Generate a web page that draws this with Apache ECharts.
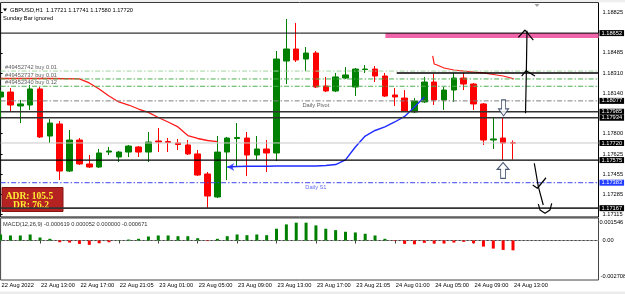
<!DOCTYPE html>
<html>
<head>
<meta charset="utf-8">
<title>GBPUSD H1</title>
<script src="https://cdn.jsdelivr.net/npm/echarts@6.0.0/dist/echarts.min.js"></script>
<style>
  html, body { margin: 0; padding: 0; background: #fff; }
  #chart { width: 625px; height: 294px; }
</style>
</head>
<body>
<div id="chart"></div>
<script>
// one bar per hour: bar 0 = 22 Aug 09:00 ... bar 52 = 24 Aug 13:00
const opens = [
  1.18110, 1.18152, 1.18034, 1.18042, 1.18178, 1.17779, 1.17881, 1.17482, 1.17745, 1.17542,
  1.17516, 1.17643, 1.17601, 1.17643, 1.17686, 1.17643, 1.17737, 1.17732, 1.17720, 1.17703,
  1.17627, 1.17457, 1.17262, 1.17643, 1.17758, 1.17762, 1.17618, 1.17669, 1.17635, 1.18415,
  1.18517, 1.18432, 1.18483, 1.18203, 1.18161, 1.18271, 1.18195, 1.18343, 1.18347, 1.18288,
  1.18127, 1.18101, 1.17983, 1.18068, 1.18237, 1.18085, 1.18169, 1.18271, 1.18220, 1.18051,
  1.17745, 1.17762, 1.17721
];
const highs = [
  1.18169, 1.18186, 1.18085, 1.18212, 1.18195, 1.17923, 1.17906, 1.17830, 1.17762, 1.17618,
  1.17669, 1.17686, 1.17652, 1.17703, 1.17694, 1.17813, 1.17847, 1.17762, 1.17754, 1.17745,
  1.17660, 1.17474, 1.17779, 1.17771, 1.17889, 1.17813, 1.17779, 1.17745, 1.18500, 1.18772,
  1.18738, 1.18534, 1.18500, 1.18280, 1.18314, 1.18364, 1.18356, 1.18381, 1.18373, 1.18314,
  1.18186, 1.18169, 1.18101, 1.18280, 1.18305, 1.18195, 1.18314, 1.18314, 1.18229, 1.18059,
  1.17932, 1.17940, 1.17741
];
const lows = [
  1.17940, 1.17991, 1.17889, 1.18000, 1.17762, 1.17720, 1.17406, 1.17474, 1.17533, 1.17508,
  1.17508, 1.17618, 1.17559, 1.17601, 1.17601, 1.17559, 1.17643, 1.17643, 1.17660, 1.17618,
  1.17440, 1.17160, 1.17253, 1.17406, 1.17525, 1.17440, 1.17576, 1.17474, 1.17567, 1.18220,
  1.18407, 1.18330, 1.18186, 1.18152, 1.18152, 1.18263, 1.18118, 1.18314, 1.18237, 1.18110,
  1.18034, 1.17983, 1.17974, 1.18059, 1.18042, 1.18000, 1.18068, 1.18169, 1.18000, 1.17703,
  1.17669, 1.17576, 1.17580
];
const closes = [
  1.18152, 1.18042, 1.18051, 1.18178, 1.17771, 1.17889, 1.17482, 1.17745, 1.17542, 1.17516,
  1.17635, 1.17652, 1.17643, 1.17694, 1.17643, 1.17728, 1.17728, 1.17724, 1.17707, 1.17627,
  1.17448, 1.17270, 1.17643, 1.17762, 1.17766, 1.17618, 1.17669, 1.17635, 1.18432, 1.18517,
  1.18424, 1.18483, 1.18195, 1.18161, 1.18280, 1.18297, 1.18347, 1.18347, 1.18288, 1.18118,
  1.18110, 1.17991, 1.18076, 1.18237, 1.18085, 1.18169, 1.18271, 1.18220, 1.18051, 1.17745,
  1.17754, 1.17720, 1.17720
];
const macdHist = [
  0.000415, 0.000346, 0.000346, 0.000415, 0.000208, 0.000118, -0.000118, -0.000138, -0.000228, -0.000298,
  -0.000187, -0.000118, 0.000021, 0.000069, 0.000118, 0.000277, 0.000346, 0.000346, 0.000298, 0.000298,
  0.000159, -0.000035, 0.000118, 0.000298, 0.000415, 0.000367, 0.000415, 0.000367, 0.000810, 0.001107,
  0.001225, 0.001225, 0.001038, 0.000810, 0.000713, 0.000602, 0.000554, 0.000464, 0.000346, 0.000118,
  -0.000035, -0.000228, -0.000256, -0.000159, -0.000208, -0.000208, -0.000138, -0.000090, -0.000187, -0.000415,
  -0.000554, -0.000644, -0.000671
];

// indicator lines, [bar index, price]
const redMA = [
  [0, 1.18267], [5, 1.18267], [8, 1.18263], [9, 1.18229], [10, 1.18178], [11, 1.18118],
  [12, 1.18068], [13, 1.18042], [14, 1.18008], [15, 1.17979], [16, 1.17936], [17, 1.17898],
  [18, 1.17856], [19, 1.17783], [20, 1.17758], [21, 1.17741], [22, 1.17732]
];
const redMA2 = [
  [43.85, 1.18458], [44.0, 1.18390], [44.3, 1.18381], [45, 1.18356], [46, 1.18339], [47, 1.18330],
  [48, 1.18322], [49, 1.18314], [50, 1.18301], [51, 1.18288], [51.8, 1.18271], [52.1, 1.18263]
];
const blueMA = [
  [23, 1.17516], [24, 1.17520], [25, 1.17522], [26, 1.17522], [27, 1.17522], [28, 1.17525],
  [29, 1.17525], [30, 1.17525], [31, 1.17525], [32, 1.17525], [33, 1.17529], [34, 1.17537],
  [35, 1.17576], [36, 1.17686], [37, 1.17779], [38, 1.17826], [39, 1.17856], [40, 1.17898],
  [41, 1.17945], [42, 1.18025], [43, 1.18110]
];

// axis ticks
const tickIndex = [0, 4, 8, 12, 16, 20, 24, 28, 32, 36, 40, 44, 48, 52];
const tickLabels = ['22 Aug 2022', '22 Aug 13:00', '22 Aug 17:00', '22 Aug 21:05', '23 Aug 01:00',
  '23 Aug 05:00', '23 Aug 09:00', '23 Aug 13:00', '23 Aug 17:00', '23 Aug 21:05', '24 Aug 01:00',
  '24 Aug 05:00', '24 Aug 09:00', '24 Aug 13:00'];
const priceTicks = [1.18825, 1.18485, 1.18310, 1.18140, 1.17800, 1.17625, 1.17455, 1.17285, 1.17115];
const priceTags = [1.18652, 1.18077, 1.17985, 1.17934, 1.17720, 1.17575, 1.17167];
const s1Tag = 1.17383;
const macdTicks = [0.001546, 0, -0.002708];

// chart objects
const solidLevels = [1.18652, 1.17985, 1.17934, 1.17575, 1.17167];
const bidLevel = 1.17720;
const buyLevels = [1.18330, 1.18263, 1.18201];
const buyLabels = ['#49452742 buy 0.01', '#49452737 buy 0.01', '#49452340 buy 0.12'];
const pivotLevel = 1.18077;
const dailyS1 = 1.17383;
const hLine = [40.2, 1.18314];            // start bar, price
const pinkZone = [39.05, 1.18652, 1.18610]; // start bar, top, bottom
const downArrow = [51.04, 1.18017];
const upArrow = [50.99, 1.17487];
const sketches = [
  [[53.27, 1.17972], [53.35, 1.18300], [53.42, 1.18672]],
  [[52.54, 1.18616], [53.22, 1.18678], [53.32, 1.18678], [54.06, 1.18593]],
  [[52.88, 1.18288], [53.32, 1.18333], [54.23, 1.18288]],
  [[54.16, 1.17548], [54.57, 1.17349], [55.07, 1.17194]],
  [[54.0, 1.17364], [54.47, 1.17336], [55.35, 1.17425]],
  [[54.57, 1.17202], [54.74, 1.17152], [55.25, 1.17124], [55.75, 1.17152], [55.93, 1.17208]]
];

const X_MIN = 0, X_MAX = 60.676;
const Y_MIN = 1.170921, Y_MAX = 1.189115;
const FONT = 'Liberation Sans, Arial, sans-serif';
const FS = 5.7;

const chart = echarts.init(document.getElementById('chart'));

function level(price, color, width, type, from) {
  return {
    type: 'line', xAxisIndex: 0, yAxisIndex: 0, silent: true, symbol: 'none', z: 4,
    data: [[from === undefined ? X_MIN : from, price], [X_MAX, price]],
    lineStyle: { color: color, width: width, type: type }
  };
}
function textAt(x, price, text, color, pos, offset) {
  return {
    type: 'scatter', xAxisIndex: 0, yAxisIndex: 0, silent: true, z: 6,
    symbolSize: 0.1, itemStyle: { color: 'rgba(0,0,0,0)' },
    data: [[x, price]],
    label: {
      show: true, position: pos, distance: 0, offset: offset,
      formatter: text, color: color, fontSize: FS, fontFamily: FONT
    }
  };
}
const dashDot = [5, 2, 1.5, 2];

const series = [
  {
    type: 'candlestick', xAxisIndex: 0, yAxisIndex: 0, barWidth: 6, z: 2,
    data: opens.map((o, i) => [i, o, closes[i], lows[i], highs[i]]),
    itemStyle: { color: '#008000', color0: '#ff0000', borderColor: '#008000', borderColor0: '#ff0000', borderWidth: 1 }
  },
  {
    type: 'custom', xAxisIndex: 0, yAxisIndex: 0, silent: true, z: 3,
    data: [pinkZone],
    renderItem: function (params, api) {
      const a = api.coord([api.value(0), api.value(1)]);
      const b = api.coord([X_MAX, api.value(2)]);
      return { type: 'rect', shape: { x: a[0], y: a[1], width: b[0] - a[0], height: b[1] - a[1] }, style: { fill: '#f064aa' } };
    }
  },
  { type: 'line', xAxisIndex: 0, yAxisIndex: 0, silent: true, symbol: 'none', z: 3, data: redMA, lineStyle: { color: '#ff1a1a', width: 1.3 } },
  { type: 'line', xAxisIndex: 0, yAxisIndex: 0, silent: true, symbol: 'none', z: 3, data: redMA2, lineStyle: { color: '#ff1a1a', width: 1.2 } },
  { type: 'line', xAxisIndex: 0, yAxisIndex: 0, silent: true, symbol: 'none', z: 3, data: blueMA, lineStyle: { color: '#1f2bff', width: 1.4 } },
  {
    type: 'scatter', xAxisIndex: 0, yAxisIndex: 0, silent: true, z: 3,
    data: [blueMA[0]], symbol: 'arrow', symbolRotate: 90, symbolSize: [6, 7], itemStyle: { color: '#1f2bff' }
  },
  level(bidLevel, '#c8c8c8', 1, 'solid'),
  level(buyLevels[0], '#9fd49f', 1, dashDot),
  level(buyLevels[1], '#4caf50', 1, dashDot),
  level(buyLevels[2], '#4caf50', 1, dashDot),
  level(pivotLevel, '#808080', 1, dashDot),
  level(dailyS1, '#3b46f0', 1, dashDot),
  level(solidLevels[0], '#000', 1, 'solid'),
  level(solidLevels[1], '#333', 1.4, 'solid'),
  level(solidLevels[2], '#333', 1.4, 'solid'),
  level(solidLevels[3], '#000', 1.2, 'solid'),
  level(solidLevels[4], '#333', 1.6, 'solid'),
  level(hLine[1], '#000', 1.6, 'solid', hLine[0]),
  textAt(0.45, buyLevels[0], buyLabels[0], '#333', 'right', [0, -4]),
  textAt(0.45, buyLevels[1], buyLabels[1], '#333', 'right', [0, -3.5]),
  textAt(0.45, buyLevels[2], buyLabels[2], '#333', 'right', [0, -4]),
  textAt(32, pivotLevel, 'Daily Pivot', '#333', 'inside', [0, 5]),
  textAt(32, dailyS1, 'Daily S1', '#3b46f0', 'inside', [0, 4.5]),
  {
    type: 'scatter', xAxisIndex: 0, yAxisIndex: 0, silent: true, z: 5,
    data: [downArrow], symbol: 'path://M3,0 H7 V9 H10 L5,16 L0,9 H3 Z', symbolSize: [10, 16],
    itemStyle: { color: '#fff', borderColor: '#1c2e50', borderWidth: 1 }
  },
  {
    type: 'scatter', xAxisIndex: 0, yAxisIndex: 0, silent: true, z: 5,
    data: [upArrow], symbol: 'path://M5,0 L10,7 H7 V16 H3 V7 H0 Z', symbolSize: [12, 16],
    itemStyle: { color: '#fff', borderColor: '#1c2e50', borderWidth: 1 }
  },
  {
    type: 'bar', xAxisIndex: 1, yAxisIndex: 1, barWidth: 3, silent: true,
    data: macdHist.map((v, i) => ({ value: [i, v], itemStyle: { color: v >= 0 ? '#008000' : '#ff0000' } }))
  },
  {
    type: 'line', xAxisIndex: 1, yAxisIndex: 1, silent: true, symbol: 'none', z: 1,
    data: [[X_MIN, 0], [X_MAX, 0]], lineStyle: { color: '#a8a8a8', width: 1, type: [2, 2] }
  }
];
sketches.forEach(path => series.push({
  type: 'line', xAxisIndex: 0, yAxisIndex: 0, silent: true, symbol: 'none', z: 7,
  data: path, lineStyle: { color: '#000', width: 1.2 }
}));

function priceLabel(v) {
  const s = v.toFixed(5);
  if (priceTags.some(t => t.toFixed(5) === s)) return '{hl|' + s + '}';
  if (s === s1Tag.toFixed(5)) return '{bl|' + s + '}';
  return '{pl|' + s + '}';
}

const option = {
  animation: false,
  backgroundColor: '#fff',
  grid: [
    { left: 0.6, top: 2.5, width: 597.9, height: 214.5, show: true, borderColor: '#000', borderWidth: 1, outerBoundsMode: 'none' },
    { left: 0.6, top: 218, width: 597.9, height: 62, show: true, borderColor: '#444', borderWidth: 1, outerBoundsMode: 'none' }
  ],
  xAxis: [
    { type: 'value', gridIndex: 0, min: X_MIN, max: X_MAX, show: false },
    {
      type: 'value', gridIndex: 1, min: X_MIN, max: X_MAX,
      splitLine: { show: false },
      axisLine: { show: true, lineStyle: { color: '#444', width: 1 } },
      axisTick: { show: true, customValues: tickIndex, length: 3, lineStyle: { color: '#444' } },
      axisLabel: {
        customValues: tickIndex, margin: 2.5, align: 'left', padding: [0, 0, 0, 1],
        fontSize: FS, fontFamily: FONT, color: '#000',
        formatter: v => tickLabels[tickIndex.indexOf(Math.round(v))]
      }
    }
  ],
  yAxis: [
    {
      type: 'value', gridIndex: 0, position: 'right', min: Y_MIN, max: Y_MAX,
      splitLine: { show: false },
      axisLine: { show: false },
      axisTick: { show: true, customValues: priceTicks, length: 2, lineStyle: { color: '#000' } },
      axisLabel: {
        customValues: priceTicks.concat(priceTags, [s1Tag]), margin: 1,
        fontSize: FS, fontFamily: FONT, color: '#000',
        formatter: priceLabel,
        rich: {
          pl: { fontSize: FS, fontFamily: FONT, color: '#000', padding: [0, 0, 0, 3] },
          hl: { fontSize: FS, fontFamily: FONT, color: '#fff', backgroundColor: '#000', lineHeight: 6, padding: [0, 2, 0, 2] },
          bl: { fontSize: FS, fontFamily: FONT, color: '#fff', backgroundColor: '#1f3cff', lineHeight: 6, padding: [0, 2, 0, 2] }
        }
      }
    },
    {
      type: 'value', gridIndex: 1, position: 'right', min: -0.002708, max: 0.001546,
      splitLine: { show: false },
      axisLine: { show: false },
      axisTick: { show: true, customValues: [0], length: 2, lineStyle: { color: '#000' } },
      axisLabel: {
        customValues: macdTicks, margin: 1,
        fontSize: FS, fontFamily: FONT, color: '#000',
        formatter: v => v === 0 ? '{pl|0.00}' : (v > 0 ? '{t|' + v.toFixed(6) + '}' : '{b|' + v.toFixed(6) + '}'),
        rich: {
          pl: { fontSize: FS, fontFamily: FONT, color: '#000', padding: [0, 0, 0, 3] },
          t: { fontSize: FS, fontFamily: FONT, color: '#000', padding: [8, 0, 0, 0] },
          b: { fontSize: FS, fontFamily: FONT, color: '#000', padding: [0, 0, 8, 1] }
        }
      }
    }
  ],
  graphic: [
    { type: 'rect', z: 0, shape: { x: 0, y: 0, width: 625, height: 2.3 }, style: { fill: '#eeeeee' } },
    { type: 'rect', z: 0, shape: { x: 0, y: 291.5, width: 625, height: 3 }, style: { fill: '#ececec' } },
    { type: 'polygon', z: 10, shape: { points: [[534.5, 4], [539.5, 4], [537, 7]] }, style: { fill: '#a0a0a0' } },
    { type: 'polygon', z: 10, shape: { points: [[3, 8.5], [7, 8.5], [5, 11.5]] }, style: { fill: '#000' } },
    { type: 'text', z: 10, x: 10, y: 10, style: { text: 'GBPUSD,H1  1.17721 1.17741 1.17580 1.17720', fontSize: FS, fontFamily: FONT, fill: '#000', verticalAlign: 'middle' } },
    { type: 'text', z: 10, x: 3, y: 18.5, style: { text: 'Sunday Bar ignored', fontSize: FS, fontFamily: FONT, fill: '#000', verticalAlign: 'middle' } },
    { type: 'text', z: 10, x: 3, y: 224, style: { text: 'MACD(12,26,9) -0.000619 0.000052 0.000000 -0.000671', fontSize: FS, fontFamily: FONT, fill: '#333', verticalAlign: 'middle' } },
    { type: 'rect', z: 1, shape: { x: 2, y: 187.5, width: 61, height: 24 }, style: { fill: '#b52222', stroke: '#8a1515', lineWidth: 1 } },
    { type: 'text', z: 1, x: 29.5, y: 196.5, style: { text: 'ADR: 105.5', fontSize: 9.5, fontWeight: 'bold', fontFamily: 'Liberation Serif, serif', fill: '#ffee33', align: 'center', verticalAlign: 'middle' } },
    { type: 'text', z: 1, x: 31, y: 206, style: { text: 'DR: 76.2', fontSize: 9.5, fontWeight: 'bold', fontFamily: 'Liberation Serif, serif', fill: '#ffee33', align: 'center', verticalAlign: 'middle' } }
  ],
  series: series
};

chart.setOption(option);
</script>
</body>
</html>
